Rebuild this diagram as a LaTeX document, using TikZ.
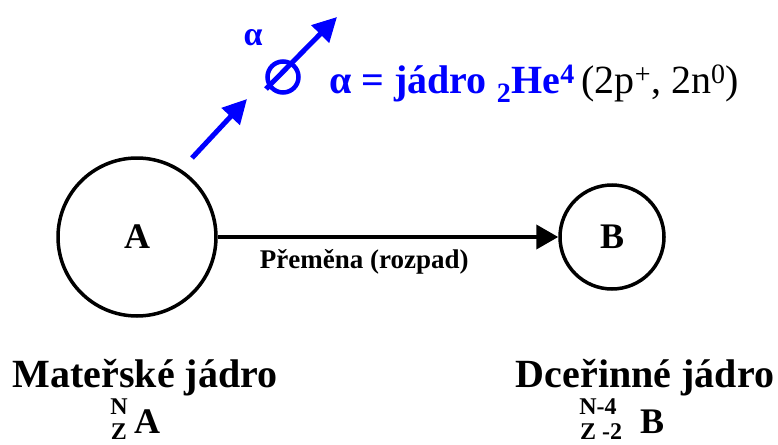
\documentclass[tikz,border=0pt]{standalone}
\usepackage{fontspec}
\setmainfont{Liberation Serif}
\usetikzlibrary{arrows.meta, positioning}
\definecolor{alphacolor}{HTML}{0000FF}

\begin{document}
\begin{tikzpicture}[x=1pt, y=-1pt,
    nucleus/.style={draw, circle, line width=3.5pt, font=\fontsize{36}{38}\selectfont\bfseries},
    decay/.style={line width=4pt, -{Triangle[length=22pt, width=24pt]}},
    alphaarrow/.style={alphacolor, line width=5pt, -{Triangle[length=24pt, width=24pt]}},
    caption/.style={font=\fontsize{40}{42}\selectfont\bfseries, inner sep=0pt},
    iso/.style={font=\fontsize{24}{26}\selectfont\bfseries, inner sep=0pt}
]
    \useasboundingbox (0,0) rectangle (778,444);
    % --- nuclei ---
    \node[nucleus, minimum size=158pt] (A) at (137,237) {A};
    \node[nucleus, minimum size=104pt] (B) at (612,237) {B};
    \draw[decay] (A) -- (B) node[pos=0.43, below=7pt, font=\fontsize{27}{29}\selectfont\bfseries] (lbl) {Přeměna (rozpad)};
    % --- alpha particle ---
    \node[draw=alphacolor, circle, line width=4.5pt, minimum size=31pt, inner sep=0pt] (alpha) at (283,77) {};
    \node[alphacolor, font=\fontsize{34}{36}\selectfont\bfseries] (alab) at (253,38) {α};
    \coordinate (emit) at (192,158);
    \coordinate (hit) at (247,99);
    \coordinate (tail) at (266,89);
    \coordinate (fly) at (337,17);
    \draw[alphaarrow] (emit) -- (hit);
    \draw[alphaarrow] (tail) -- (fly);
    \node[anchor=base west, inner sep=0pt, font=\fontsize{40}{42}\selectfont] (eq) at (329,93)
        {\textcolor{alphacolor}{\bfseries α = jádro \textsubscript{2}He\textsuperscript{4}}\,(2p\textsuperscript{+}, 2n\textsuperscript{0})};
    % --- mother / daughter ---
    \node[caption] (mother) at (145,378) {Mateřské jádro};
    \node[caption] (daughter) at (645,378) {Dceřinné jádro};
    \node[font=\fontsize{36}{38}\selectfont\bfseries, inner sep=0pt] (symA) at (147,422) {A};
    \node[iso] (nA) at (119,407) {N};
    \node[iso] (zA) at (119,432) {Z};
    \node[font=\fontsize{36}{38}\selectfont\bfseries, inner sep=0pt] (symB) at (652,422) {B};
    \node[iso] (nB) at (598,407) {N-4};
    \node[iso] (zB) at (601,432) {Z -2};
\end{tikzpicture}
\end{document}
